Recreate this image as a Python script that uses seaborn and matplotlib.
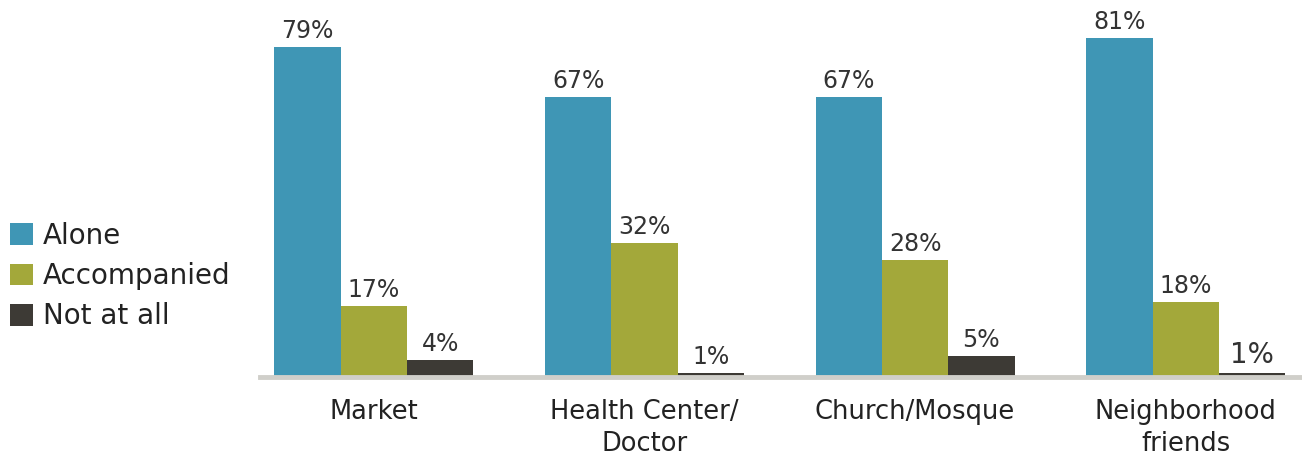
import matplotlib
matplotlib.use("Agg")
import matplotlib.pyplot as plt
import seaborn as sns
import pandas as pd

categories = ["Market", "Health Center/\nDoctor", "Church/Mosque", "Neighborhood\nfriends"]
series_names = ["Alone", "Accompanied", "Not at all"]
alone = [79, 67, 67, 81]
accompanied = [17, 32, 28, 18]
not_at_all = [4, 1, 5, 1]
colors = ["#3f96b5", "#a3a83a", "#3d3a35"]

rows = []
for name, vals in zip(series_names, [alone, accompanied, not_at_all]):
    for c, v in zip(categories, vals):
        rows.append({"place": c, "mode": name, "value": v})
df = pd.DataFrame(rows)

sns.set_theme(style="white")
plt.rcParams["font.family"] = ["DejaVu Sans"]

fig = plt.figure(figsize=(13.02, 4.55), dpi=100)
ax = fig.add_axes([0.1997, 0.1714, 0.8003, 0.8286])

sns.barplot(data=df, x="place", y="value", hue="mode", order=categories,
            hue_order=series_names, palette=colors, width=0.735, gap=0,
            saturation=1, ax=ax, legend=True, linewidth=0)

ax.set_xlim(-0.421, 3.43)
ax.set_ylim(0, 90.2)
ax.set_xlabel("")
ax.set_ylabel("")
ax.set_yticks([])
for s in ["top", "right", "left"]:
    ax.spines[s].set_visible(False)
ax.spines["bottom"].set_color("#d0cfca")
ax.spines["bottom"].set_linewidth(3.5)
ax.tick_params(axis="x", length=0, pad=16, labelsize=18.5, labelcolor="#222222")
for t in ax.get_xticklabels():
    t.set_linespacing(1.3)

for i, cont in enumerate(ax.containers):
    labels = [f"{v:.0f}%" for v in cont.datavalues]
    texts = ax.bar_label(cont, labels=labels, padding=3, fontsize=17, color="#333333")
    if i == 2:
        texts[3].set_fontsize(20)

handles, labs = ax.get_legend_handles_labels()
ax.legend_.remove()
fig.legend(handles, labs, loc="center left", bbox_to_anchor=(0.0, 0.393),
           frameon=False, fontsize=20, handlelength=0.83, handleheight=0.83,
           handletextpad=0.36, labelspacing=0.44, borderaxespad=0.0,
           borderpad=0.36, labelcolor="#222222")

fig.savefig("out.png", dpi=100)
